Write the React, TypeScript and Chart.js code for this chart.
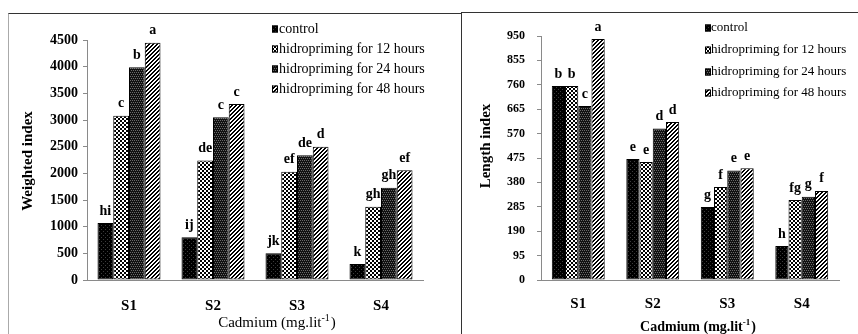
import React, { useEffect, useRef } from 'react';
import { Chart, registerables } from 'chart.js';
Chart.register(...registerables);

const categories = ['S1', 'S2', 'S3', 'S4'];
const seriesNames = ['control', 'hidropriming for 12 hours', 'hidropriming for 24 hours', 'hidropriming for 48 hours'];

// Weighted index
const weightedControl = [1070, 800, 500, 300];
const weighted12h = [3080, 2240, 2030, 1375];
const weighted24h = [3990, 3050, 2340, 1730];
const weighted48h = [4450, 3300, 2500, 2060];
const weightedLetters = [
  ['hi', 'ij', 'jk', 'k'],
  ['c', 'de', 'ef', 'gh'],
  ['b', 'c', 'de', 'gh'],
  ['a', 'c', 'd', 'ef'],
];
const weightedTicks = [0, 500, 1000, 1500, 2000, 2500, 3000, 3500, 4000, 4500];

// Length index
const lengthControl = [755, 471, 284, 132];
const length12h = [755, 459, 362, 311];
const length24h = [677, 590, 426, 324];
const length48h = [938, 615, 435, 347];
const lengthLetters = [
  ['b', 'e', 'g', 'h'],
  ['b', 'e', 'f', 'fg'],
  ['c', 'd', 'e', 'g'],
  ['a', 'd', 'e', 'f'],
];
const lengthTicks = [0, 95, 190, 285, 380, 475, 570, 665, 760, 855, 950];

const FONT = "'Liberation Serif', 'Times New Roman', serif";

function makePattern(kind: number): CanvasPattern | string {
  const c = document.createElement('canvas');
  c.width = 4;
  c.height = 4;
  const g = c.getContext('2d');
  if (!g) return '#000';
  if (kind === 0) {
    g.fillStyle = '#000';
    g.fillRect(0, 0, 4, 4);
    g.fillStyle = '#3c3c3c';
    g.fillRect(1, 1, 1, 1);
    g.fillRect(3, 3, 1, 1);
  } else if (kind === 1) {
    g.fillStyle = '#fff';
    g.fillRect(0, 0, 4, 4);
    g.fillStyle = '#000';
    g.fillRect(0, 0, 2, 2);
    g.fillRect(2, 2, 2, 2);
  } else if (kind === 2) {
    g.fillStyle = '#111';
    g.fillRect(0, 0, 4, 4);
    g.fillStyle = '#6a6a6a';
    g.fillRect(0, 0, 1, 1);
    g.fillRect(2, 0, 1, 1);
    g.fillRect(1, 2, 1, 1);
    g.fillRect(3, 2, 1, 1);
  } else {
    g.fillStyle = '#fff';
    g.fillRect(0, 0, 4, 4);
    g.fillStyle = '#000';
    for (let x = 0; x < 4; x++) {
      for (let y = 0; y < 4; y++) {
        const m = (x + y) % 4;
        if (m === 0 || m === 1) g.fillRect(x, y, 1, 1);
      }
    }
  }
  const p = g.createPattern(c, 'repeat');
  return p || '#000';
}

interface PanelCfg {
  left: number;
  width: number;
  height: number;
  series: number[][];
  letters: string[][];
  ticks: number[];
  padTop: number;
  padRight: number;
  yWidth: number;
  xHeight: number;
  catPct: number;
  yTickFont: number;
  yTickPad: number;
  xTickPad: number;
  letterFont: number;
  letterGap: number;
  yTitle: string;
  yTitlePos: [number, number];
  xTitlePos: [number, number];
  xTitleFont: number;
  xTitleBold: boolean;
  legendBoxX: number;
  legendTextX: number;
  legendRows: number[];
  legendFont: number;
}

function makePlugin(cfg: PanelCfg, patterns: (CanvasPattern | string)[]) {
  return {
    id: 'panelDecor',
    afterDatasetsDraw(chart: any) {
      const ctx: CanvasRenderingContext2D = chart.ctx;
      ctx.save();
      // letters above bars
      ctx.fillStyle = '#000';
      ctx.font = `bold ${cfg.letterFont}px ${FONT}`;
      ctx.textAlign = 'center';
      ctx.textBaseline = 'bottom';
      cfg.letters.forEach((row, di) => {
        const meta = chart.getDatasetMeta(di);
        row.forEach((txt, i) => {
          const el = meta.data[i];
          if (!el) return;
          ctx.fillText(txt, el.x, el.y - cfg.letterGap);
        });
      });
      // legend
      ctx.font = `${cfg.legendFont}px ${FONT}`;
      ctx.textAlign = 'left';
      ctx.textBaseline = 'middle';
      seriesNames.forEach((name, i) => {
        const cy = cfg.legendRows[i];
        ctx.fillStyle = patterns[i] as any;
        ctx.fillRect(cfg.legendBoxX, cy - 3.5, 6, 7);
        ctx.strokeStyle = '#000';
        ctx.lineWidth = 1;
        ctx.strokeRect(cfg.legendBoxX + 0.5, cy - 3, 5, 6);
        ctx.fillStyle = '#000';
        ctx.fillText(name, cfg.legendTextX, cy);
      });
      // y title
      ctx.save();
      ctx.translate(cfg.yTitlePos[0], cfg.yTitlePos[1]);
      ctx.rotate(-Math.PI / 2);
      ctx.font = `bold 15px ${FONT}`;
      ctx.textAlign = 'center';
      ctx.textBaseline = 'middle';
      ctx.fillText(cfg.yTitle, 0, 0);
      ctx.restore();
      // x title with superscript
      const w = cfg.xTitleBold ? 'bold ' : '';
      const main = 'Cadmium (mg.lit';
      const sup = '-1';
      const end = ')';
      ctx.font = `${w}${cfg.xTitleFont}px ${FONT}`;
      const wMain = ctx.measureText(main).width;
      const wEnd = ctx.measureText(end).width;
      ctx.font = `${w}${Math.round(cfg.xTitleFont * 0.65)}px ${FONT}`;
      const wSup = ctx.measureText(sup).width;
      const total = wMain + wSup + wEnd + 1;
      let x = cfg.xTitlePos[0] - total / 2;
      const y = cfg.xTitlePos[1];
      ctx.textAlign = 'left';
      ctx.textBaseline = 'middle';
      ctx.font = `${w}${cfg.xTitleFont}px ${FONT}`;
      ctx.fillText(main, x, y);
      x += wMain;
      ctx.font = `${w}${Math.round(cfg.xTitleFont * 0.65)}px ${FONT}`;
      ctx.fillText(sup, x, y - cfg.xTitleFont * 0.3);
      x += wSup + 1;
      ctx.font = `${w}${cfg.xTitleFont}px ${FONT}`;
      ctx.fillText(end, x, y);
      ctx.restore();
    },
  };
}

function Panel({ cfg }: { cfg: PanelCfg }) {
  const ref = useRef<HTMLCanvasElement>(null);
  useEffect(() => {
    const canvas = ref.current;
    if (!canvas) return;
    const patterns = [0, 1, 2, 3].map(makePattern);
    const maxTick = cfg.ticks[cfg.ticks.length - 1];
    const step = cfg.ticks[1] - cfg.ticks[0];
    const chart = new Chart(canvas, {
      type: 'bar',
      data: {
        labels: categories,
        datasets: cfg.series.map((vals, i) => ({
          label: seriesNames[i],
          data: vals,
          backgroundColor: patterns[i] as any,
          borderColor: '#000',
          borderWidth: 1,
          borderSkipped: false,
          categoryPercentage: cfg.catPct,
          barPercentage: 1,
        })),
      },
      options: {
        responsive: false,
        animation: false,
        layout: { padding: { left: 0, right: cfg.padRight, top: cfg.padTop, bottom: 0 } },
        plugins: { legend: { display: false }, tooltip: { enabled: false } },
        scales: {
          x: {
            grid: { display: false, drawTicks: false },
            border: { display: true, color: '#8a8a8a', width: 1 },
            ticks: {
              color: '#000',
              padding: cfg.xTickPad,
              font: { family: FONT, size: 15, weight: 'bold' },
            },
            afterFit: (s: any) => {
              s.height = cfg.xHeight;
            },
          },
          y: {
            min: 0,
            max: maxTick,
            ticks: {
              stepSize: step,
              color: '#000',
              padding: cfg.yTickPad,
              font: { family: FONT, size: cfg.yTickFont, weight: 'bold' },
              callback: (v: any) => String(v),
            },
            grid: { drawOnChartArea: false, drawTicks: true, tickLength: 4, color: '#8a8a8a' },
            border: { display: true, color: '#8a8a8a', width: 1 },
            afterFit: (s: any) => {
              s.width = cfg.yWidth;
            },
          },
        },
      },
      plugins: [makePlugin(cfg, patterns)],
    } as any);
    return () => chart.destroy();
  }, [cfg]);
  return (
    <canvas
      ref={ref}
      width={cfg.width}
      height={cfg.height}
      style={{ position: 'absolute', left: cfg.left, top: 0, width: cfg.width, height: cfg.height }}
    />
  );
}

const leftCfg: PanelCfg = {
  left: 0,
  width: 461,
  height: 334,
  series: [weightedControl, weighted12h, weighted24h, weighted48h],
  letters: weightedLetters,
  ticks: weightedTicks,
  padTop: 40,
  padRight: 38,
  yWidth: 87,
  xHeight: 54,
  catPct: 0.75,
  yTickFont: 14,
  yTickPad: 5,
  xTickPad: 17,
  letterFont: 14,
  letterGap: 5,
  yTitle: 'Weighted index',
  yTitlePos: [28, 161],
  xTitlePos: [277, 323],
  xTitleFont: 15,
  xTitleBold: false,
  legendBoxX: 272,
  legendTextX: 279,
  legendRows: [29, 49, 69, 89],
  legendFont: 14,
};

const rightCfg: PanelCfg = {
  left: 461,
  width: 397,
  height: 334,
  series: [lengthControl, length12h, length24h, length48h],
  letters: lengthLetters,
  ticks: lengthTicks,
  padTop: 36,
  padRight: 19,
  yWidth: 80,
  xHeight: 54,
  catPct: 0.71,
  yTickFont: 12,
  yTickPad: 12,
  xTickPad: 15,
  letterFont: 14,
  letterGap: 5,
  yTitle: 'Length index',
  yTitlePos: [25, 146],
  xTitlePos: [237, 327],
  xTitleFont: 14,
  xTitleBold: true,
  legendBoxX: 244,
  legendTextX: 250,
  legendRows: [28, 50, 72, 93],
  legendFont: 13,
};

export default function App() {
  return (
    <div
      style={{
        position: 'fixed',
        left: 0,
        top: 0,
        width: 858,
        height: 334,
        overflow: 'hidden',
        background: '#fff',
      }}
    >
      <Panel cfg={leftCfg} />
      <Panel cfg={rightCfg} />
      <div style={{ position: 'absolute', left: 8, top: 13, width: 453, height: 330, borderTop: '1px solid #333', borderLeft: '1px solid #aaa' }} />
      <div style={{ position: 'absolute', left: 461, top: 12, width: 400, height: 330, borderTop: '1px solid #333', borderLeft: '1px solid #333' }} />
    </div>
  );
}
